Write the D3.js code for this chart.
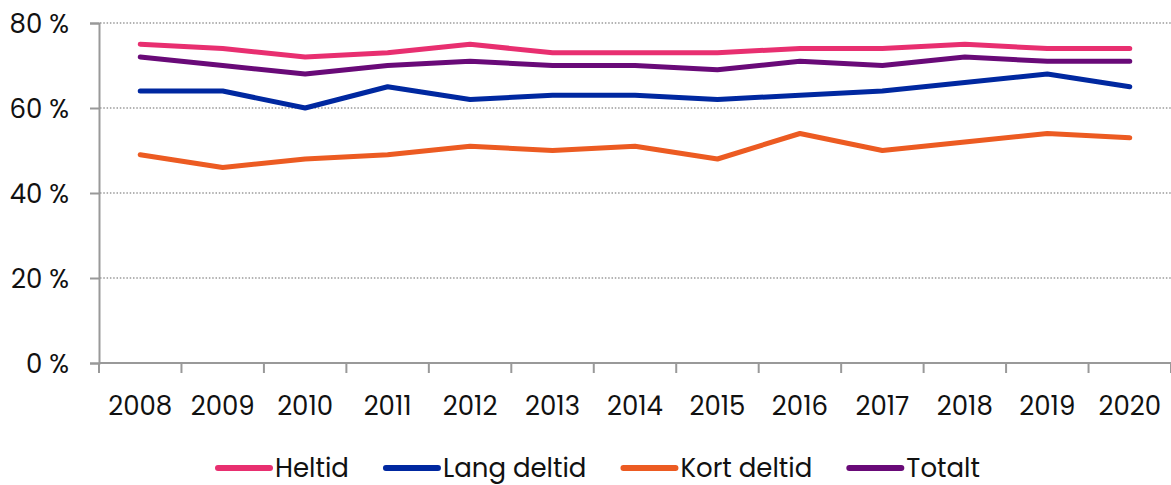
<!DOCTYPE html>
<meta charset='utf-8'>
<style>
  body { margin: 0; background: #fff; }
  svg text { font-family: 'Poppins', 'DejaVu Sans', sans-serif; font-size: 26px; fill: #111; }
</style>
<div id='chart'></div>
<script src='https://cdn.jsdelivr.net/npm/d3@7'></script>
<script>
  var years = ['2008','2009','2010','2011','2012','2013','2014','2015','2016','2017','2018','2019','2020'];
  var heltid =      [75, 74, 72, 73, 75, 73, 73, 73, 74, 74, 75, 74, 74];
  var langDeltid =  [64, 64, 60, 65, 62, 63, 63, 62, 63, 64, 66, 68, 65];
  var kortDeltid =  [49, 46, 48, 49, 51, 50, 51, 48, 54, 50, 52, 54, 53];
  var totalt =      [72, 70, 68, 70, 71, 70, 70, 69, 71, 70, 72, 71, 71];
  var yTicks = [0, 20, 40, 60, 80];

  var series = [
    {name: 'Heltid', values: heltid, color: '#e82f70'},
    {name: 'Lang deltid', values: langDeltid, color: '#0028a0'},
    {name: 'Kort deltid', values: kortDeltid, color: '#ec5b22'},
    {name: 'Totalt', values: totalt, color: '#690a78'}
  ];

  var width = 1171, height = 485;
  var svg = d3.select('#chart').append('svg')
    .attr('width', width)
    .attr('height', height);

  var x = d3.scaleBand().domain(years).range([99, 1171]);
  var y = d3.scaleLinear().domain([0, 80]).range([363, 23]);

  // gridlines
  svg.append('g')
    .selectAll('line')
    .data(yTicks.filter(function(d) { return d > 0; }))
    .enter().append('line')
      .attr('x1', 100).attr('x2', width)
      .attr('y1', function(d) { return y(d); })
      .attr('y2', function(d) { return y(d); })
      .attr('stroke', '#9a9a9a')
      .attr('stroke-width', 1.5)
      .attr('stroke-dasharray', '1.5,1.8');

  // y axis
  var yAxis = svg.append('g')
    .attr('transform', 'translate(99,0)')
    .call(d3.axisLeft(y).tickValues(yTicks).tickSize(9).tickPadding(21)
      .tickFormat(function(d) { return d + '\u00a0%'; }));
  yAxis.select('.domain').attr('stroke', '#999').attr('stroke-width', 2);
  yAxis.selectAll('.tick line').attr('stroke', '#999').attr('stroke-width', 2);
  yAxis.selectAll('text').attr('font-family', null).attr('font-size', null).attr('dy', '0.36em');

  // x axis with boundary ticks
  var xAxis = svg.append('g').attr('transform', 'translate(0,363)');
  xAxis.append('line')
    .attr('x1', 99).attr('x2', width)
    .attr('stroke', '#999').attr('stroke-width', 2);
  xAxis.selectAll('.bt')
    .data(years.concat(['end']))
    .enter().append('line')
      .attr('class', 'bt')
      .attr('x1', function(d, i) { return x.range()[0] + i * x.bandwidth(); })
      .attr('x2', function(d, i) { return x.range()[0] + i * x.bandwidth(); })
      .attr('y1', 0).attr('y2', 10)
      .attr('stroke', '#999').attr('stroke-width', 2);
  xAxis.selectAll('.lbl')
    .data(years)
    .enter().append('text')
      .attr('class', 'lbl')
      .attr('x', function(d) { return x(d) + x.bandwidth() / 2; })
      .attr('y', 52)
      .attr('text-anchor', 'middle')
      .text(function(d) { return d; });

  // lines
  var line = d3.line()
    .x(function(d, i) { return x(years[i]) + x.bandwidth() / 2; })
    .y(function(d) { return y(d); });

  svg.append('g')
    .selectAll('path')
    .data(series)
    .enter().append('path')
      .attr('d', function(d) { return line(d.values); })
      .attr('fill', 'none')
      .attr('stroke', function(d) { return d.color; })
      .attr('stroke-width', 5)
      .attr('stroke-linecap', 'round')
      .attr('stroke-linejoin', 'round');

  // legend
  var legend = svg.append('g').attr('transform', 'translate(0,468)');
  var lx = 218;
  series.forEach(function(s) {
    var g = legend.append('g').attr('transform', 'translate(' + lx + ',0)');
    g.append('line')
      .attr('x1', 0).attr('x2', 52)
      .attr('stroke', s.color)
      .attr('stroke-width', 6)
      .attr('stroke-linecap', 'round');
    var t = g.append('text')
      .attr('x', 57)
      .attr('dy', '0.36em')
      .text(s.name);
    lx += 57 + t.node().getComputedTextLength() + 37;
  });
</script>
